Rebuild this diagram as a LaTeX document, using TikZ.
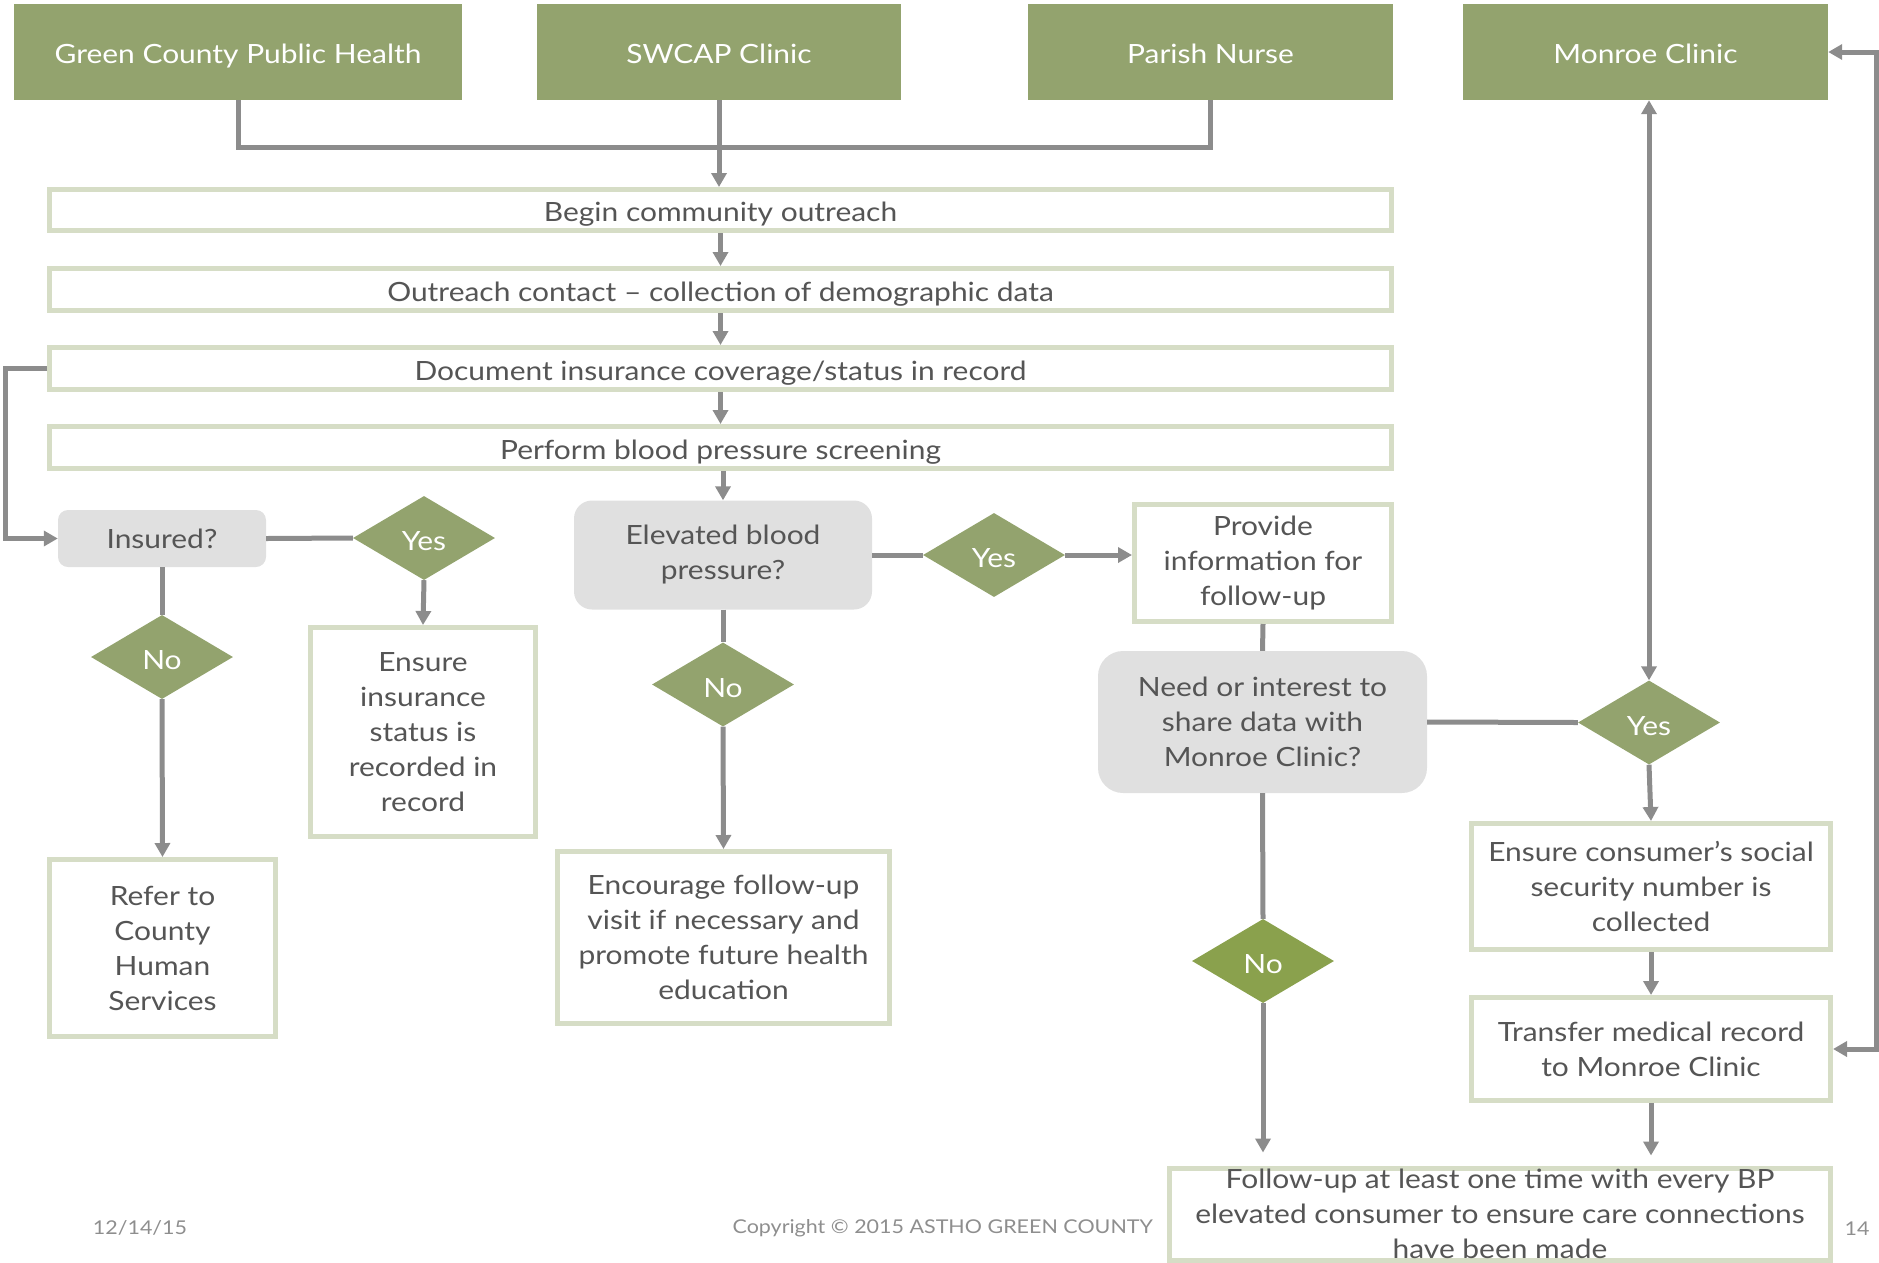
\documentclass[tikz,border=0pt]{standalone}
\usepackage{fontspec}
\setmainfont{Lato}[FakeStretch=1.13]
\usetikzlibrary{shapes.geometric,arrows.meta}

\definecolor{headgreen}{HTML}{93A36E}
\definecolor{nogreen}{HTML}{8AA14D}
\definecolor{paleline}{HTML}{D6DDC6}
\definecolor{linegray}{HTML}{8C8C8C}
\definecolor{askgray}{HTML}{E0E0E0}
\definecolor{txtgray}{HTML}{555555}
\definecolor{footgray}{HTML}{8E8E8E}

\tikzset{
	head/.style={fill=headgreen,text=white,minimum width=#1,minimum height=96pt,inner sep=0pt,text height=23pt,text depth=0pt,font=\fontsize{26.5}{35}\selectfont},
	stepbox/.style 2 args={draw=paleline,line width=5pt,fill=white,text=txtgray,minimum width=#1,minimum height=#2,inner sep=0pt,align=center,font=\fontsize{26.5}{35}\selectfont},
	oneline/.style={text height=23pt,text depth=0pt},
	ask/.style n args={3}{fill=askgray,rounded corners=#3,text=txtgray,minimum width=#1,minimum height=#2,inner sep=0pt,align=center,font=\fontsize{26.5}{35}\selectfont},
	choice/.style={diamond,aspect=1.7,fill=headgreen,text=white,minimum width=142pt,minimum height=84pt,inner sep=0pt,text height=25pt,text depth=0pt,font=\fontsize{26.5}{30}\selectfont},
	foot/.style={text=footgray,inner sep=0pt,font=\fontsize{19}{24}\selectfont},
	wire/.style={draw=linegray,line width=5pt},
	arr/.style={wire,-{Triangle[width=15pt,length=14pt]}},
	duo/.style={wire,{Triangle[width=15pt,length=14pt]}-{Triangle[width=15pt,length=14pt]}}
}

\begin{document}
\begin{tikzpicture}[x=1pt,y=-1pt]
	\useasboundingbox (0,0) rectangle (1879,1262);

	\node[head=448pt] (gcph) at (238,52) {Green County Public Health};
	\node[head=364pt] (swcap) at (719,52) {SWCAP Clinic};
	\node[head=365pt] (parish) at (1210.5,52) {Parish Nurse};
	\node[head=365pt] (monroe) at (1645.5,52) {Monroe Clinic};

	\node[stepbox={1342pt}{41pt},oneline] (begin) at (720.5,210) {Begin community outreach};
	\node[stepbox={1342pt}{42pt},oneline] (outreach) at (720.5,289.5) {Outreach contact -- collection of demographic data};
	\node[stepbox={1342pt}{42pt},oneline] (document) at (720.5,368.5) {Document insurance coverage/status in record};
	\node[stepbox={1342pt}{42pt},oneline] (perform) at (720.5,447.5) {Perform blood pressure screening};

	\node[ask={208pt}{57pt}{10pt}] (insured) at (162,538.5) {Insured?};
	\node[choice] (yesins) at (424,538) {Yes};
	\node[choice] (noins) at (162,657) {No};
	\node[stepbox={225pt}{209pt}] (ensure) at (423,732) {Ensure\\insurance\\status is\\recorded in\\record};
	\node[stepbox={226pt}{177pt}] (refer) at (162.5,948) {Refer to\\County\\Human\\Services};

	\node[ask={298pt}{109pt}{18pt}] (elevated) at (723,555) {Elevated blood\\pressure?};
	\node[choice] (nobp) at (723,684.5) {No};
	\node[choice] (yesbp) at (994,555) {Yes};
	\node[stepbox={332pt}{172pt}] (encourage) at (723.5,937.5) {Encourage follow-up\\visit if necessary and\\promote future health\\education};
	\node[stepbox={257pt}{117pt}] (provide) at (1263,563) {Provide\\information for\\follow-up};

	\node[ask={329pt}{142pt}{25pt}] (need) at (1262.5,722) {Need or interest to\\share data with\\Monroe Clinic?};
	\node[choice] (yesshare) at (1649,722.5) {Yes};
	\node[choice,fill=nogreen] (noshare) at (1263,961) {No};
	\node[stepbox={359pt}{126pt}] (ssn) at (1651,886.5) {Ensure consumer’s social\\security number is\\collected};
	\node[stepbox={359pt}{103pt}] (transfer) at (1651,1049) {Transfer medical record\\to Monroe Clinic};
	\node[stepbox={661pt}{92pt}] (followup) at (1500,1214) {Follow-up at least one time with every BP\\elevated consumer to ensure care connections\\have been made};

	\node[foot] (date) at (140,1228) {12/14/15};
	\node[foot,anchor=east] (copy) at (1153,1228) {Copyright © 2015 ASTHO GREEN COUNTY};
	\node[foot] (page) at (1857,1229) {14};

	\draw[wire] (gcph.south) -- ++(0,47) -| (parish.south);
	\draw[arr] (swcap.south) -- (swcap.south |- begin.north);
	\draw[arr] (begin) -- (outreach);
	\draw[arr] (outreach) -- (document);
	\draw[arr] (document) -- (perform);
	\draw[arr] (perform.south -| elevated.north) -- (elevated.north);
	\draw[arr] (document.west) -- ++(-42,0) |- (insured.west);

	\draw[wire] (insured.east) -- (yesins.west);
	\draw[arr] (yesins.south) -- (ensure.north);
	\draw[wire] (insured.south) -- (noins.north);
	\draw[arr] (noins.south) -- (refer.north);

	\draw[wire] (elevated.south) -- (nobp.north);
	\draw[arr] (nobp.south) -- (encourage.north);
	\draw[wire] (elevated.east) -- (yesbp.west);
	\draw[arr] (yesbp.east) -- (yesbp.east -| provide.west);
	\draw[wire] (provide.south) -- (need.north);

	\draw[wire] (need.east) -- (yesshare.west);
	\draw[duo] (yesshare.north) -- (yesshare.north |- monroe.south);
	\draw[arr] (yesshare.south) -- (ssn.north);
	\draw[arr] (ssn) -- (transfer);
	\draw[arr,shorten >=10pt] (transfer.south) -- (transfer.south |- followup.north);
	\draw[wire] (need.south) -- (noshare.north);
	\draw[arr,shorten >=13pt] (noshare.south) -- (noshare.south |- followup.north);
	\draw[duo] (monroe.east) -- ++(48,0) |- (transfer.east);
\end{tikzpicture}
\end{document}
